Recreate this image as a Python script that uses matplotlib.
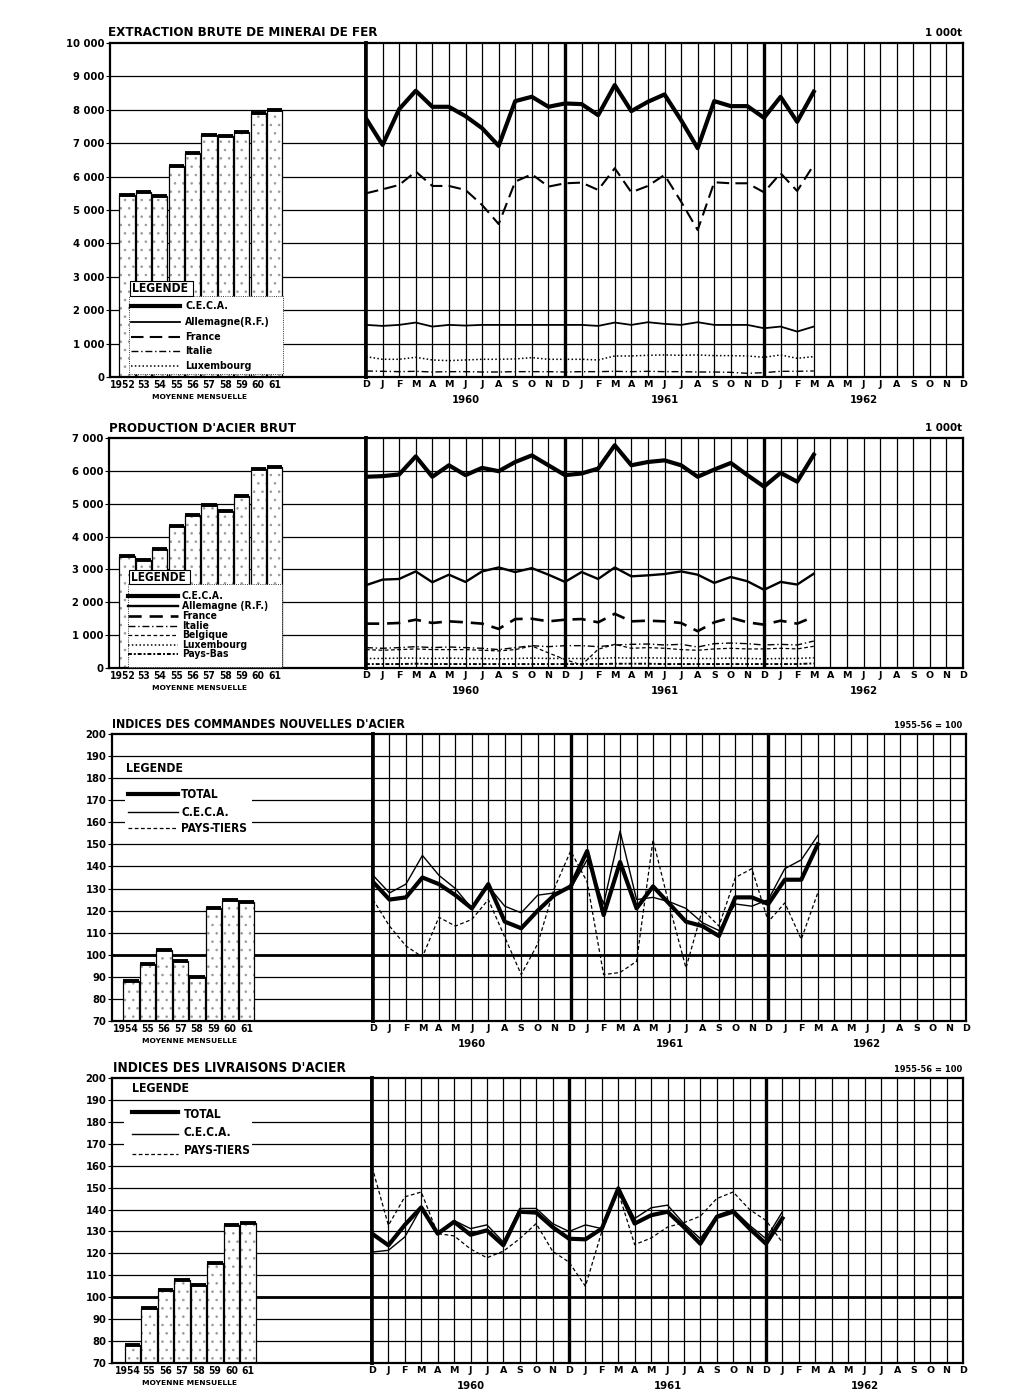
import matplotlib
matplotlib.use("Agg")
import matplotlib.pyplot as plt
import matplotlib.transforms as mtransforms
from matplotlib import font_manager
from matplotlib.lines import Line2D
from matplotlib.patches import Rectangle

W, H = 1022, 1397

MONTHS = ["D"] + list("JFMAMJJASOND") * 3
YEARS = ["1960", "1961", "1962"]

# extraction brute de minerai de fer (1 000 t)
ore_years = ["1952", "53", "54", "55", "56", "57", "58", "59", "60", "61"]
ore_avg = [5440, 5530, 5410, 6310, 6720, 7240, 7210, 7350, 7900, 7980]
ore_ceca = [7740, 6950, 8020, 8570, 8090, 8090, 7810, 7450, 6920, 8260, 8390, 8090, 8190,
            8170, 7840, 8740, 7960, 8240, 8460, 7690, 6850, 8260, 8110, 8110, 7760,
            8390, 7640, 8540]
ore_allemagne = [1560, 1530, 1560, 1630, 1510, 1560, 1540, 1560, 1560, 1560, 1560, 1560, 1560,
                 1560, 1530, 1630, 1560, 1640, 1590, 1560, 1640, 1560, 1560, 1560, 1460,
                 1510, 1360, 1510]
ore_france = [5500, 5620, 5750, 6150, 5720, 5720, 5600, 5150, 4580, 5850, 6070, 5700, 5800,
              5820, 5600, 6250, 5530, 5720, 6050, 5250, 4400, 5830, 5800, 5800, 5530,
              6100, 5570, 6350]
ore_italie = [180, 170, 160, 170, 150, 160, 160, 150, 150, 160, 160, 160, 150,
              160, 160, 170, 160, 170, 160, 160, 150, 150, 140, 110, 130,
              170, 170, 180]
ore_lux = [610, 530, 530, 590, 510, 490, 510, 530, 530, 540, 580, 530, 530,
           530, 510, 630, 630, 650, 660, 650, 660, 640, 640, 630, 590,
           660, 560, 610]

# production d'acier brut (1 000 t)
steel_years = ["1952", "53", "54", "55", "56", "57", "58", "59", "60", "61"]
steel_avg = [3400, 3280, 3630, 4310, 4670, 4970, 4790, 5250, 6050, 6120]
steel_ceca = [5820, 5840, 5890, 6440, 5820, 6170, 5870, 6090, 5990, 6270, 6470, 6170, 5870,
              5920, 6070, 6780, 6170, 6270, 6320, 6170, 5820, 6040, 6240, 5870, 5520,
              5940, 5670, 6490]
steel_allemagne = [2520, 2690, 2710, 2940, 2610, 2840, 2620, 2940, 3060, 2920, 3040, 2840, 2620,
                   2920, 2710, 3060, 2790, 2820, 2860, 2940, 2840, 2590, 2770, 2640, 2380,
                   2620, 2540, 2870]
steel_france = [1350, 1350, 1370, 1470, 1370, 1420, 1390, 1350, 1190, 1490, 1500, 1420, 1470,
                1490, 1390, 1650, 1420, 1440, 1420, 1370, 1120, 1390, 1530, 1390, 1320,
                1440, 1350, 1560]
steel_italie = [620, 600, 620, 650, 620, 640, 620, 600, 560, 620, 680, 650, 680,
                680, 650, 700, 720, 730, 700, 720, 640, 740, 760, 740, 700,
                720, 700, 820]
steel_belgique = [560, 540, 560, 580, 560, 560, 560, 540, 520, 560, 670, 460, 260,
                  90, 570, 720, 600, 620, 600, 560, 540, 580, 600, 580, 580,
                  600, 580, 660]
steel_lux = [290, 290, 300, 300, 290, 300, 290, 290, 280, 290, 300, 290, 290,
             290, 290, 310, 300, 310, 300, 300, 290, 290, 300, 290, 280,
             290, 290, 310]
steel_paysbas = [120, 120, 120, 130, 120, 120, 120, 120, 120, 120, 120, 120, 120,
                 120, 120, 130, 130, 130, 120, 120, 120, 120, 120, 120, 120,
                 120, 120, 140]

# indices des commandes nouvelles (1955-56 = 100)
idx_years = ["1954", "55", "56", "57", "58", "59", "60", "61"]
orders_avg = [88, 96, 102, 97, 90, 121, 125, 124]
orders_total = [133, 125, 126, 135, 132, 127, 121, 132, 115, 112, 120, 127, 131,
                147, 118, 142, 121, 131, 123, 115, 113, 108.5, 126, 126, 123,
                134, 134, 150]
orders_ceca = [136, 128, 132, 145, 136, 130, 121, 131, 122, 119, 127, 128, 130,
               143, 123, 156, 125, 126, 124, 121, 114.5, 111, 123, 122, 125,
               139, 143, 154]
orders_tiers = [125, 113, 104, 99, 117, 113, 116, 125, 108, 91, 105, 130, 147,
                133, 91, 92, 97, 152, 122, 94, 120.5, 113, 135, 139, 115,
                123.5, 107, 128]

# indices des livraisons (1955-56 = 100)
deliv_avg = [78, 95, 103.5, 108, 105.5, 115.5, 133, 134]
deliv_total = [129, 123.7, 133, 141, 129, 134.4, 128.5, 130.5, 123.7, 139, 138.6, 132, 126.7,
               126.4, 131.3, 149.6, 133.6, 137.4, 139, 132, 124.4, 136.6, 139, 131.3, 124.4,
               136]
deliv_ceca = [120.6, 121.4, 127.5, 140.8, 129, 135, 131.3, 133, 125.2, 140.5, 140.5, 133.6, 130,
              133, 131.3, 150.4, 135.9, 140.8, 142, 133.6, 126.7, 137.4, 140, 132.8, 126.7,
              139]
deliv_tiers = [159.5, 132.8, 145.8, 148, 129, 128, 122, 118, 121, 126.7, 133.6, 121, 116,
               105, 130, 148, 124, 127, 132, 134, 137, 145, 148, 140, 135,
               125]

# pick a narrow face when one is available
fonts = font_manager.fontManager.ttflist
names = {f.name for f in fonts}
if "Liberation Sans Narrow" in names:
    NARROW, STRETCH, K = "Liberation Sans Narrow", "normal", 1.15
elif any(f.name == "DejaVu Sans" and f.stretch == "condensed" for f in fonts):
    NARROW, STRETCH, K = "DejaVu Sans", "condensed", 1.08
else:
    NARROW, STRETCH, K = "DejaVu Sans", "normal", 1.0

plt.rcParams["font.family"] = [NARROW, "DejaVu Sans"]
plt.rcParams["font.weight"] = "bold"
plt.rcParams["font.stretch"] = STRETCH
plt.rcParams["hatch.linewidth"] = 0.6

fig = plt.figure(figsize=(W / 100, H / 100), dpi=100)


def fx(x):
    return x / W


def fy(y):
    return 1 - y / H


def ftext(x, y, s, size, ha="left", va="center", family=None, stretch=None):
    fig.text(fx(x), fy(y), s, fontsize=size * K, ha=ha, va=va, fontweight="bold",
             family=family or NARROW, fontstretch=stretch or STRETCH, zorder=8)


def fline(x0, x1, y, **style):
    fig.add_artist(Line2D([fx(x0), fx(x1)], [fy(y), fy(y)], transform=fig.transFigure,
                          color="k", zorder=7, **style))


def fbox(x0, y0, x1, y1, **kw):
    fig.add_artist(Rectangle((fx(x0), fy(y1)), (x1 - x0) / W, (y1 - y0) / H,
                             transform=fig.transFigure, zorder=6, **kw))


STY = {
    "thick": dict(lw=3.0, ls="-"),
    "solid": dict(lw=1.3, ls="-"),
    "solid2": dict(lw=1.7, ls="-"),
    "thin": dict(lw=1.0, ls="-"),
    "dash": dict(lw=1.5, ls=(0, (6, 3))),
    "dash2": dict(lw=1.9, ls=(0, (5, 3))),
    "dashdot": dict(lw=1.0, ls=(0, (5, 2, 1, 2))),
    "dot": dict(lw=1.1, ls=(0, (1, 1.5))),
    "thindash": dict(lw=0.9, ls=(0, (3, 2))),
    "dense": dict(lw=1.4, ls=(0, (2, 1, 1, 1))),
}


def panel(geo, ylim, ystep, bar_labels, bar_vals, series, note_x, heavy100=False):
    left, div, right, top, bottom, step, first = geo
    ymin, ymax = ylim
    hgt = (bottom - top) / H
    axb = fig.add_axes([fx(left), fy(bottom), (div - left) / W, hgt])
    axm = fig.add_axes([fx(div), fy(bottom), (right - div) / W, hgt])
    ticks = list(range(ymin, ymax + 1, ystep))

    # annual averages
    x0 = (first - left) / step
    axb.set_xlim(-x0, (div - left) / step - x0)
    axb.set_ylim(ymin, ymax)
    for v in ticks[1:-1]:
        axb.axhline(v, color="k", lw=0.9, zorder=0.5)
        axm.axhline(v, color="k", lw=0.9, zorder=1)
    xs = list(range(len(bar_vals)))
    hts = [v - ymin for v in bar_vals]
    axb.bar(xs, hts, bottom=ymin, width=0.93, color="white", edgecolor="#999999",
            hatch="..", lw=0, zorder=2)
    axb.bar(xs, hts, bottom=ymin, width=0.93, fill=False, edgecolor="k", lw=0.9, zorder=3)
    axb.hlines(bar_vals, [x - 0.465 for x in xs], [x + 0.465 for x in xs],
               color="k", lw=2.8, zorder=4)
    trans = mtransforms.blended_transform_factory(axb.transData, fig.transFigure)
    for i, lab in enumerate(bar_labels):
        if i == 0:
            axb.text(0.5, fy(bottom + 8), lab, transform=trans, ha="right", va="center",
                     fontsize=6.8 * K, fontweight="bold")
        else:
            axb.text(i, fy(bottom + 8), lab, transform=trans, ha="center", va="center",
                     fontsize=6.8 * K, fontweight="bold")
    axb.set_xticks([])
    axb.set_yticks(ticks)
    if ymax >= 1000:
        labels = [f"{v:,}".replace(",", " ") for v in ticks]
    else:
        labels = [str(v) for v in ticks]
    axb.set_yticklabels(labels, fontsize=7.4 * K, fontweight="bold")
    axb.tick_params(axis="y", length=3, width=0.8, pad=1)

    # monthly series
    axm.set_xlim(0, 36)
    axm.set_ylim(ymin, ymax)
    for m in range(1, 36):
        heavy = m in (12, 24)
        axm.axvline(m, color="k", lw=2.4 if heavy else 0.9, zorder=1.5)
    for vals, key in series:
        axm.plot(range(len(vals)), vals, color="k", zorder=4, **STY[key])
    axm.set_xticks(range(37))
    axm.set_xticklabels(MONTHS, fontsize=6.8, fontweight="bold", family="DejaVu Sans",
                        fontstretch="normal")
    axm.tick_params(axis="x", length=0, pad=2)
    axm.set_yticks([])

    if heavy100:
        axb.axhline(100, color="k", lw=2.0, zorder=0.6)
        axm.axhline(100, color="k", lw=2.0, zorder=1.6)

    for ax in (axb, axm):
        for sp in ax.spines.values():
            sp.set_linewidth(1.6)
    axb.spines["right"].set_linewidth(2.6)
    axm.spines["left"].set_linewidth(2.6)

    for i, yr in enumerate(YEARS):
        ftext(div + (6 + 12 * i) / 36 * (right - div), bottom + 23, yr, 7.5, ha="center")
    ftext(note_x, bottom + 20, "MOYENNE MENSUELLE", 5.0, ha="center",
          family="DejaVu Sans", stretch="normal")


def legend_key(x0, x1, y, label, key, lx, size):
    fline(x0, x1, y, **STY[key])
    ftext(lx, y, label, size)


# ---- minerai de fer ----
panel((110, 366, 963, 43, 377, 16.4, 127), (0, 10000), 1000, ore_years, ore_avg,
      [(ore_lux, "dot"), (ore_italie, "dashdot"), (ore_allemagne, "solid"),
       (ore_france, "dash"), (ore_ceca, "thick")], 199)
ftext(108, 33, "EXTRACTION BRUTE DE MINERAI DE FER", 8.8)
ftext(962, 33, "1 000t", 7.6, ha="right")
fbox(129, 296, 283, 374, facecolor="white", edgecolor="k", lw=0.6, ls=":")
fbox(130, 281, 193, 296, facecolor="white", edgecolor="k", lw=0.8)
ftext(132, 289, "LEGENDE", 8)
for y, lab, key in zip([306, 322, 337, 351, 366],
                       ["C.E.C.A.", "Allemagne(R.F.)", "France", "Italie", "Luxembourg"],
                       ["thick", "solid", "dash", "dashdot", "dot"]):
    legend_key(131, 180, y, lab, key, 185, 7)

# ---- acier brut ----
panel((109, 366, 963, 438, 668, 16.4, 127), (0, 7000), 1000, steel_years, steel_avg,
      [(steel_paysbas, "dense"), (steel_lux, "dot"), (steel_belgique, "thindash"),
       (steel_italie, "dashdot"), (steel_france, "dash2"), (steel_allemagne, "solid2"),
       (steel_ceca, "thick")], 199)
ftext(109, 428, "PRODUCTION D'ACIER BRUT", 8.8)
ftext(962, 428, "1 000t", 7.6, ha="right")
fbox(128, 584, 282, 667, facecolor="white", edgecolor="k", lw=0.6, ls=":")
fbox(129, 570, 190, 584, facecolor="white", edgecolor="k", lw=0.8)
ftext(131, 577, "LEGENDE", 7.8)
for y, lab, key in zip([596, 606, 616, 626, 635, 645, 654],
                       ["C.E.C.A.", "Allemagne (R.F.)", "France", "Italie", "Belgique",
                        "Luxembourg", "Pays-Bas"],
                       ["thick", "solid2", "dash2", "dashdot", "thindash", "dot", "dense"]):
    legend_key(128, 178, y, lab, key, 182, 6.8)

# ---- commandes nouvelles ----
panel((112, 373, 966, 734, 1021, 16.5, 131), (70, 200), 10, idx_years, orders_avg,
      [(orders_tiers, "thindash"), (orders_ceca, "thin"), (orders_total, "thick")],
      189, heavy100=True)
ftext(112, 724, "INDICES DES COMMANDES NOUVELLES D'ACIER", 8.2)
ftext(962, 726, "1955-56 = 100", 6.2, ha="right")
fbox(125, 783, 252, 837, facecolor="white", edgecolor="none")
ftext(126, 768, "LEGENDE", 8.2)
for y, lab, key in zip([794, 812, 828], ["TOTAL", "C.E.C.A.", "PAYS-TIERS"],
                       ["thick", "thin", "thindash"]):
    legend_key(128, 178, y, lab, key, 181, 7.8)

# ---- livraisons ----
panel((112, 372, 963, 1078, 1363, 16.5, 132.5), (70, 200), 10, idx_years, deliv_avg,
      [(deliv_tiers, "thindash"), (deliv_ceca, "thin"), (deliv_total, "thick")],
      190, heavy100=True)
ftext(113, 1068, "INDICES DES LIVRAISONS D'ACIER", 9.0)
ftext(962, 1069, "1955-56 = 100", 6.2, ha="right")
fbox(124, 1104, 252, 1160, facecolor="white", edgecolor="none")
ftext(132, 1088, "LEGENDE", 8.2)
for y, ly, lab, key in zip([1112, 1134, 1154], [1115, 1133, 1150],
                           ["TOTAL", "C.E.C.A.", "PAYS-TIERS"],
                           ["thick", "thin", "thindash"]):
    fline(132, 178, y, **STY[key])
    ftext(184, ly, lab, 7.8)

fig.savefig("out.png", dpi=100, facecolor="white")
